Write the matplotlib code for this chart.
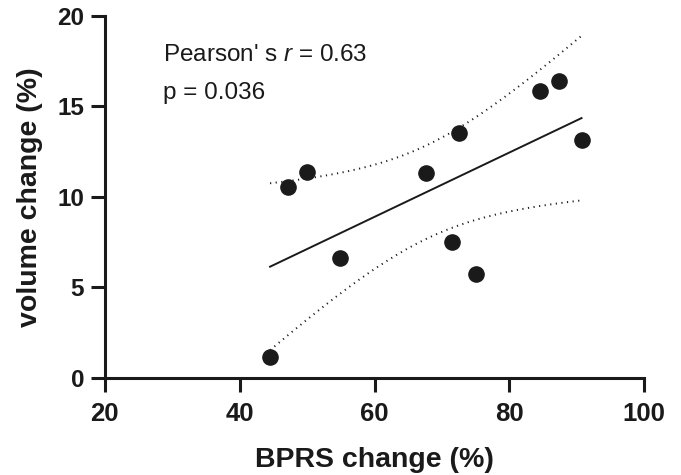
##############################################################################
# BPRS change vs volume change - scatter with linear fit and 95% CI
##############################################################################

import numpy as np
import matplotlib
matplotlib.use("Agg")
import matplotlib.pyplot as plt

##############################################################################
# Data
##############################################################################

bprs_change = [44.5, 47.2, 50.0, 54.9, 67.6, 71.5, 72.6, 75.1, 84.6, 87.4, 90.7]
volume_change = [1.14, 10.57, 11.40, 6.61, 11.31, 7.53, 13.52, 5.73, 15.82, 16.41, 13.13]

x_ticks = [20, 40, 60, 80, 100]
y_ticks = [0, 5, 10, 15, 20]

stats_lines = ["Pearson' s $\\it{r}$ = 0.63", "p = 0.036"]

##############################################################################
# Linear regression and 95% confidence band
##############################################################################

x = np.array(bprs_change)
y = np.array(volume_change)
n = len(x)

slope, intercept = np.polyfit(x, y, 1)
residuals = y - (slope * x + intercept)
s_err = np.sqrt(np.sum(residuals ** 2) / (n - 2))
t_crit = 2.262  # t(0.975, df = 9)

x_fit = np.linspace(x.min(), x.max(), 200)
y_fit = slope * x_fit + intercept
ci = t_crit * s_err * np.sqrt(1 / n + (x_fit - x.mean()) ** 2 / np.sum((x - x.mean()) ** 2))

##############################################################################
# Plot
##############################################################################

plt.rcParams["font.family"] = ["Liberation Sans", "DejaVu Sans"]
plt.rcParams["mathtext.fontset"] = "custom"
plt.rcParams["mathtext.it"] = "Liberation Sans:italic"
ink = "#1a1a1a"

fig = plt.figure(figsize=(6.81, 4.75), dpi=100)
ax = fig.add_axes([0.154, 0.204, 0.792, 0.763])

ax.plot(x_fit, y_fit, color=ink, lw=1.4)
ax.plot(x_fit, y_fit + ci, color=ink, lw=1.4, linestyle=(0, (0.6, 2.3)))
ax.plot(x_fit, y_fit - ci, color=ink, lw=1.4, linestyle=(0, (0.6, 2.3)))
ax.scatter(x, y, s=120, color=ink, zorder=3, clip_on=False)

ax.set_xlim(20, 100)
ax.set_ylim(0, 20)
ax.set_xticks(x_ticks)
ax.set_yticks(y_ticks)

for side in ["top", "right"]:
    ax.spines[side].set_visible(False)
for side in ["left", "bottom"]:
    ax.spines[side].set_linewidth(2.2)
    ax.spines[side].set_color(ink)

ax.tick_params(direction="out", length=10, width=2.2, color=ink, labelcolor=ink)
ax.tick_params(axis="x", labelsize=18.5, pad=7)
ax.tick_params(axis="y", labelsize=17.5, pad=5)
for lbl in ax.get_xticklabels() + ax.get_yticklabels():
    lbl.set_fontweight("bold")

ax.set_xlabel("BPRS change (%)", fontsize=20.5, fontweight="bold", color=ink, labelpad=15)
ax.set_ylabel("volume change (%)", fontsize=20.5, fontweight="bold", color=ink, labelpad=10)

ax.text(28.6, 17.5, stats_lines[0], fontsize=17.5, color=ink)
ax.text(28.6, 15.4, stats_lines[1], fontsize=17.5, color=ink)

fig.savefig("out.png", dpi=100)
